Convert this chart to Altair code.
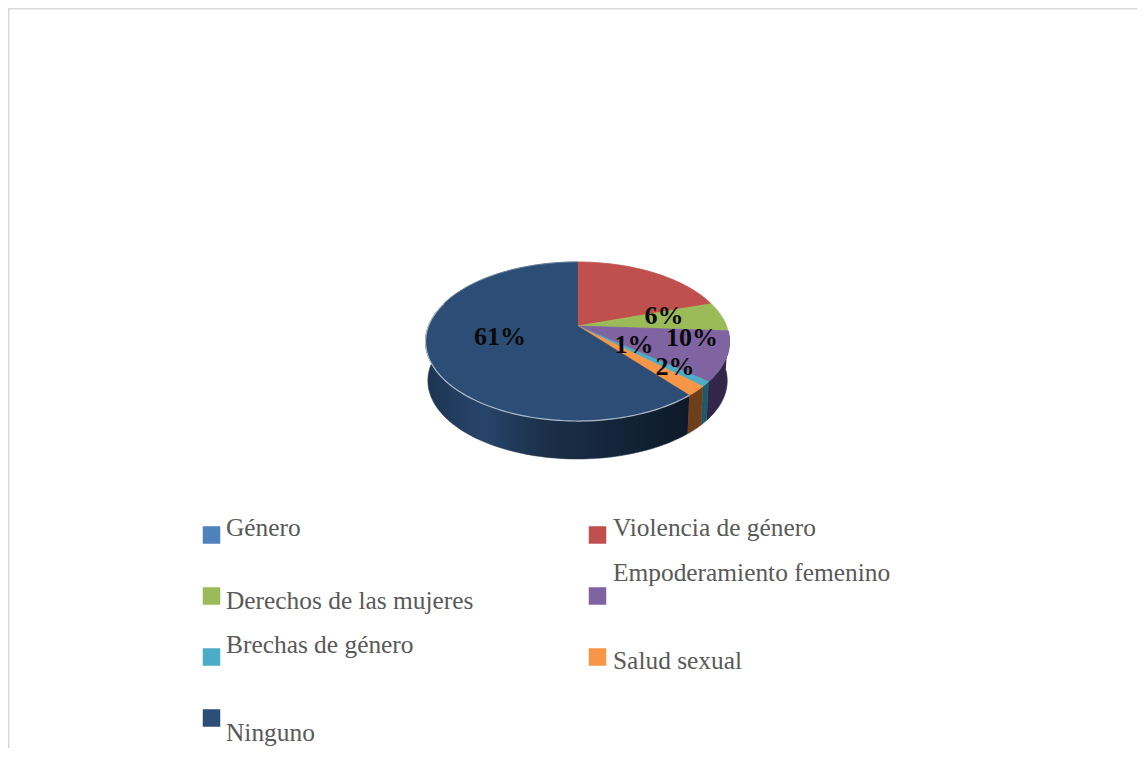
import math
import altair as alt
import pandas as pd

# ---- chart values ----
categories = ["Género", "Violencia de género", "Derechos de las mujeres",
              "Empoderamiento femenino", "Brechas de género", "Salud sexual", "Ninguno"]
values = [0, 20, 6, 10, 1, 2, 61]
colors = ["#4f81bd", "#c0504d", "#9bbb59", "#8064a2", "#4bacc6", "#f79646", "#2c4d75"]
wall_colors = ["#2a4060", "#6a2c2a", "#55682f", "#33264a", "#1f5a68", "#6e3f1a", "#1c3350"]

pct_labels = ["6%", "10%", "1%", "2%", "61%"]
pct_x = [664, 692, 634, 675, 500]
pct_y = [316, 338, 345, 367, 337]

legend_sq_x = [211.5, 597.5, 211.5, 597.5, 211.5, 597.5, 211.5]
legend_sq_y = [535, 535, 596, 596, 657, 657, 718]
legend_tx_x = [226, 613, 226, 613, 226, 613, 226]
legend_tx_y = [528, 528, 601, 573, 645, 661, 733]

# ---- page-sized plot: scales run in page pixels ----
W, H = 1129, 740
XS = alt.Scale(domain=[8, 8 + W], range=[0, W])
YS = alt.Scale(domain=[8, 8 + H], range=[0, H])

# tilted circle seen in perspective
CX, CY, R, A, K = 577.5, 326.0, 149.0, 76.5, 0.195
DEPTH, SHRINK = 39.4, 0.985


def project(frac, bottom=False):
    t = 2 * math.pi * frac
    u, v = math.sin(t), -math.cos(t)
    w = 1 / (1 - K * v)
    s = SHRINK if bottom else 1.0
    return CX + s * R * u * w, CY + (DEPTH if bottom else 0) + s * A * v * w


def arc(f0, f1, bottom=False):
    n = max(2, int(abs(f1 - f0) * 360 / 1.5) + 1)
    return [project(f0 + (f1 - f0) * i / (n - 1), bottom) for i in range(n)]


def frame(points):
    return pd.DataFrame({"x": [p[0] for p in points], "y": [p[1] for p in points],
                         "i": list(range(len(points)))})


def poly(points, fill, stroke=None, width=0.8, opacity=1):
    mark = alt.Chart(frame(points)).mark_line(
        fill=fill, stroke=stroke or (fill if isinstance(fill, str) else "#000000"),
        strokeWidth=width, opacity=opacity, interpolate="linear", clip=False)
    return mark.encode(x=alt.X("x:Q", scale=XS, axis=None),
                       y=alt.Y("y:Q", scale=YS, axis=None),
                       order=alt.Order("i:Q"))


def curve(points, color, width=1.0, opacity=1.0):
    return (alt.Chart(frame(points))
            .mark_line(stroke=color, strokeWidth=width, opacity=opacity)
            .encode(x=alt.X("x:Q", scale=XS, axis=None),
                    y=alt.Y("y:Q", scale=YS, axis=None),
                    order=alt.Order("i:Q")))


total = sum(values)
edges = [0]
for val in values:
    edges.append(edges[-1] + val / total)

layers = []

# side walls, back to front
ninguno_gradient = alt.Gradient(
    gradient="linear", x1=0, x2=1, y1=0, y2=0,
    stops=[alt.GradientStop(offset=0.0, color="#1d3552"),
           alt.GradientStop(offset=0.22, color="#27446a"),
           alt.GradientStop(offset=0.45, color="#1b3049"),
           alt.GradientStop(offset=0.72, color="#14243a"),
           alt.GradientStop(offset=1.0, color="#0e1a28")])

for idx in [3, 4, 5]:
    f0, f1 = edges[idx], edges[idx + 1]
    pts = arc(f0, f1) + arc(f1, f0, bottom=True)
    layers.append(poly(pts, wall_colors[idx]))
f0, f1 = edges[6], 0.78
layers.append(poly(arc(f0, f1) + arc(f1, f0, bottom=True), ninguno_gradient, stroke="#1c3048", width=0.5))

# top faces
for idx, val in enumerate(values):
    if val == 0:
        continue
    pts = [(CX, CY)] + arc(edges[idx], edges[idx + 1]) + [(CX, CY)]
    layers.append(poly(pts, colors[idx]))

# light rim along the outer edge of the large slice
layers.append(curve(arc(edges[6], 0.80), "#c3ccd6", 1.2, 0.85))
layers.append(curve(arc(0.80, 1.0), "#6f86a3", 1.0, 0.7))

# percentage labels
pct_df = pd.DataFrame({"label": pct_labels, "x": pct_x, "y": pct_y})
layers.append(alt.Chart(pct_df).mark_text(
    font="Liberation Serif", fontSize=26, fontWeight="bold", color="#0a0a0a",
    align="center", baseline="middle").encode(
    x=alt.X("x:Q", scale=XS, axis=None), y=alt.Y("y:Q", scale=YS, axis=None), text="label:N"))

# legend
leg_df = pd.DataFrame({"name": categories, "color": colors, "sx": legend_sq_x, "sy": legend_sq_y,
                       "tx": legend_tx_x, "ty": legend_tx_y})
layers.append(alt.Chart(leg_df).mark_square(size=306, opacity=1, filled=True).encode(
    x=alt.X("sx:Q", scale=XS, axis=None), y=alt.Y("sy:Q", scale=YS, axis=None),
    color=alt.Color("color:N", scale=None, legend=None)))
layers.append(alt.Chart(leg_df).mark_text(
    font="Liberation Serif", fontSize=25.4, color="#595959", align="left", baseline="middle").encode(
    x=alt.X("tx:Q", scale=XS, axis=None), y=alt.Y("ty:Q", scale=YS, axis=None), text="name:N"))

# chart frame
border_df = pd.DataFrame({"x": [8, 8], "x2": [8 + W, 9.5], "y": [8, 8], "y2": [9.5, 8 + H]})
layers.append(alt.Chart(border_df).mark_rect(color="#d9d9d9").encode(
    x=alt.X("x:Q", scale=XS, axis=None), x2="x2:Q",
    y=alt.Y("y:Q", scale=YS, axis=None), y2="y2:Q"))

chart = alt.layer(*layers).properties(
    width=W, height=H, padding=0,
    autosize=alt.AutoSizeParams(type="none"),
    background="#ffffff",
).configure_view(stroke=None)

chart.save("out.html", embed_options={"renderer": "svg", "actions": False})
